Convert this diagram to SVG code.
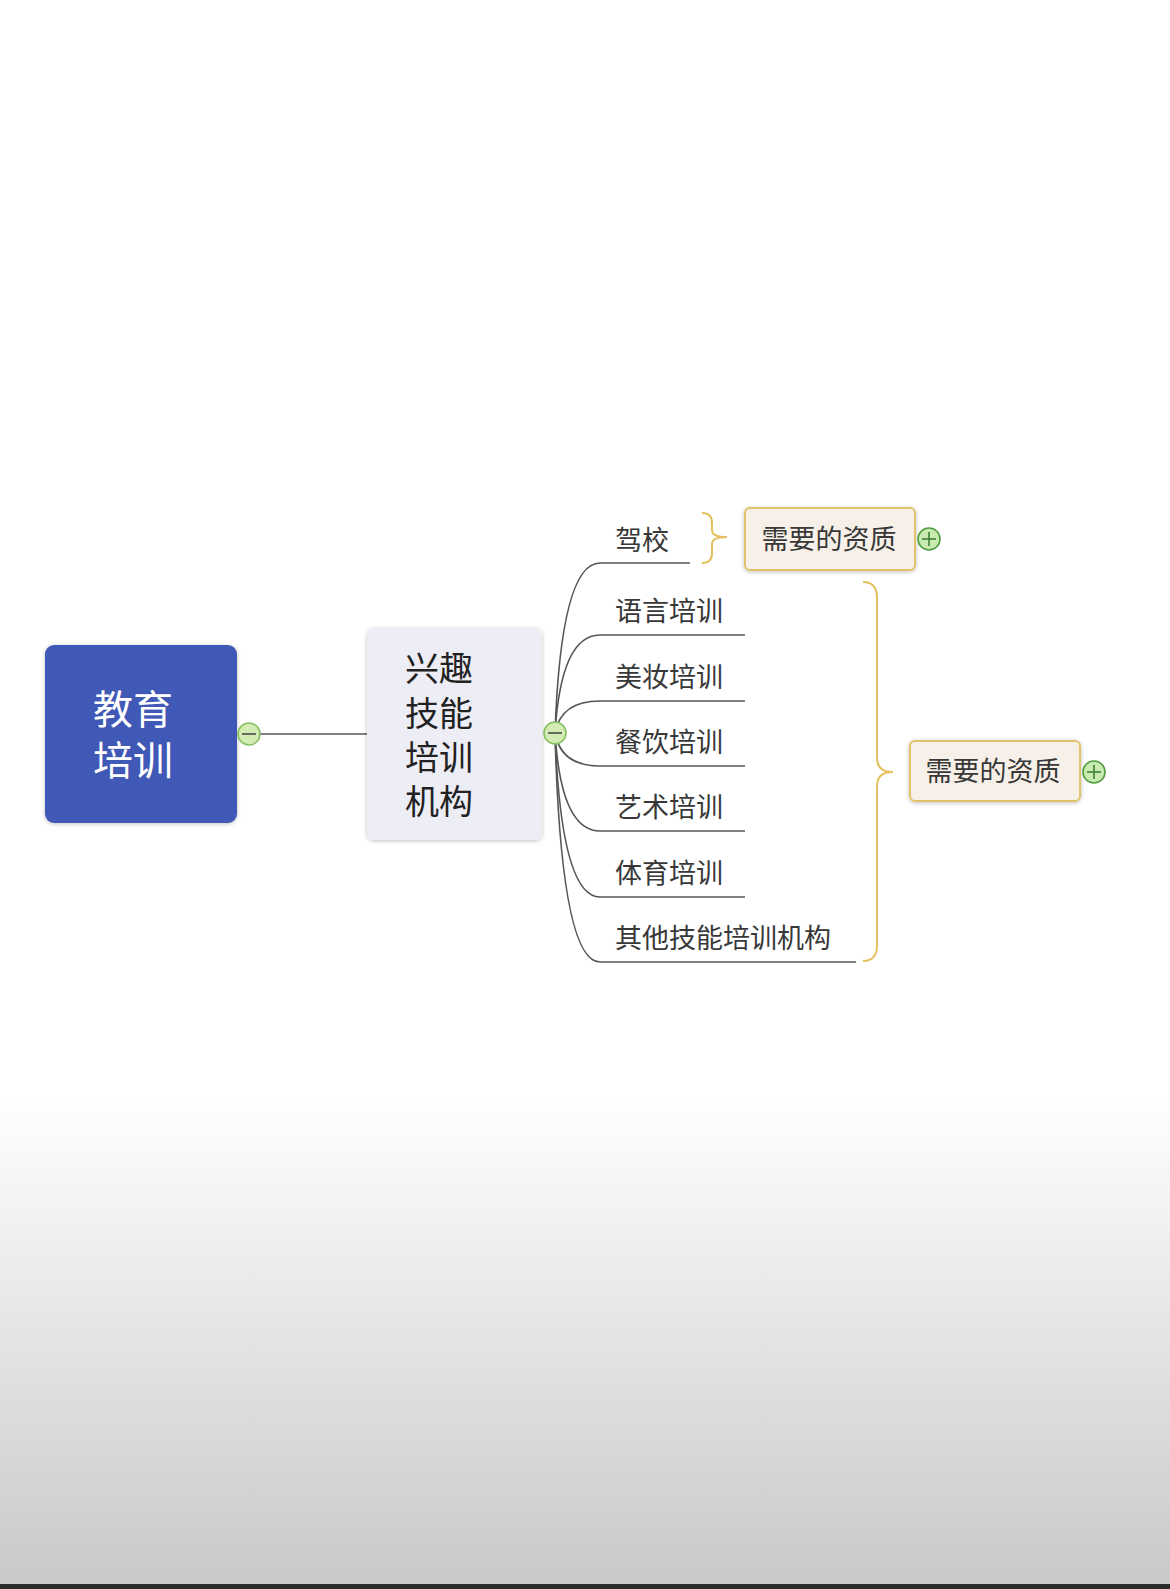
<svg xmlns="http://www.w3.org/2000/svg" width="1170" height="1589" viewBox="0 0 1170 1589">
  <defs>
    <linearGradient id="bg" x1="0" y1="0" x2="0" y2="1589" gradientUnits="userSpaceOnUse">
      <stop offset="0" stop-color="#ffffff"/>
      <stop offset="0.69" stop-color="#ffffff"/>
      <stop offset="0.99" stop-color="#cacaca"/>
    </linearGradient>
    <filter id="soft" x="-10%" y="-10%" width="120%" height="120%">
      <feGaussianBlur in="SourceAlpha" stdDeviation="2"/>
      <feOffset dx="0" dy="1" result="b"/>
      <feComponentTransfer><feFuncA type="linear" slope="0.25"/></feComponentTransfer>
      <feMerge><feMergeNode/><feMergeNode in="SourceGraphic"/></feMerge>
    </filter>
  </defs>
  <style>
    .cjk { font-family: "Noto Sans CJK SC", "Noto Sans", sans-serif; }
    .branch { fill: none; stroke: #555555; stroke-width: 1.6; }
    .brace { fill: none; stroke: #e4c15e; stroke-width: 2; }
    .label { font-size: 27px; fill: #383838; }
    .qual { fill: #f6f0e8; stroke: #e2c36c; stroke-width: 2; }
    .qtext { font-size: 27px; fill: #383838; text-anchor: middle; }
    .minus { fill: #d3ecb4; stroke: #86bf62; stroke-width: 1.6; }
    .plus { fill: #c9eab1; stroke: #4f9d3e; stroke-width: 1.6; }
    .sign { stroke: #4a4a4a; stroke-width: 1.6; }
    .psign { stroke: #3f7f33; stroke-width: 1.6; }
  </style>

  <rect x="0" y="0" width="1170" height="1589" fill="url(#bg)"/>
  <rect x="0" y="1584" width="1170" height="5" fill="#2b2b2b"/>

  <g id="connectors">
    <line class="branch" x1="249" y1="734" x2="367" y2="734"/>
    <path class="branch" d="M555,733 Q561,563 600,563 L690,563"/>
    <path class="branch" d="M555,733 Q561,635 600,635 L745,635"/>
    <path class="branch" d="M555,733 Q561,701 600,701 L745,701"/>
    <path class="branch" d="M555,733 Q561,766 600,766 L745,766"/>
    <path class="branch" d="M555,733 Q561,831 600,831 L745,831"/>
    <path class="branch" d="M555,733 Q561,897 600,897 L745,897"/>
    <path class="branch" d="M555,733 Q561,962 600,962 L856,962"/>
    <path class="brace" d="M702,513 Q712,513 712,523 L712,530 Q712,537 727,537 Q712,537 712,544 L712,553 Q712,563 702,563"/>
    <path class="brace" d="M863,582 Q877,582 877,598 L877,758 Q877,772 893,772 Q877,772 877,786 L877,945 Q877,961 863,961"/>
  </g>

  <g id="node-root">
    <rect x="45" y="645" width="192" height="178" rx="9" fill="#4159b6" filter="url(#soft)"/>
    <text class="cjk" x="133" y="724" font-size="40" fill="#ffffff" text-anchor="middle">教育<tspan x="133" dy="51">培训</tspan></text>
  </g>
  <g id="toggle-root">
    <circle class="minus" cx="249" cy="734" r="11"/>
    <line class="sign" x1="242" y1="734" x2="256" y2="734"/>
  </g>

  <g id="node-interest">
    <rect x="367" y="628" width="175" height="212" rx="7" fill="#ededf5" filter="url(#soft)"/>
    <text class="cjk" x="405" y="681" font-size="34" fill="#222222">兴趣<tspan x="405" dy="45">技能</tspan><tspan x="405" dy="44">培训</tspan><tspan x="405" dy="44">机构</tspan></text>
  </g>
  <g id="toggle-interest">
    <circle class="minus" cx="555" cy="733" r="11"/>
    <line class="sign" x1="548" y1="733" x2="562" y2="733"/>
  </g>

  <g id="node-driving"><text class="cjk label" x="615" y="550">驾校</text></g>
  <g id="node-language"><text class="cjk label" x="615" y="621">语言培训</text></g>
  <g id="node-beauty"><text class="cjk label" x="615" y="687">美妆培训</text></g>
  <g id="node-catering"><text class="cjk label" x="615" y="752">餐饮培训</text></g>
  <g id="node-art"><text class="cjk label" x="615" y="817">艺术培训</text></g>
  <g id="node-sports"><text class="cjk label" x="615" y="883">体育培训</text></g>
  <g id="node-other"><text class="cjk label" x="615" y="948">其他技能培训机构</text></g>

  <g id="node-qual-1">
    <rect class="qual" x="745" y="508" width="170" height="62" rx="5" filter="url(#soft)"/>
    <text class="cjk qtext" x="829" y="549">需要的资质</text>
    <circle class="plus" cx="929" cy="539" r="11"/>
    <line class="psign" x1="922" y1="539" x2="936" y2="539"/>
    <line class="psign" x1="929" y1="532" x2="929" y2="546"/>
  </g>

  <g id="node-qual-2">
    <rect class="qual" x="910" y="741" width="170" height="60" rx="5" filter="url(#soft)"/>
    <text class="cjk qtext" x="993" y="781">需要的资质</text>
    <circle class="plus" cx="1094" cy="772" r="11"/>
    <line class="psign" x1="1087" y1="772" x2="1101" y2="772"/>
    <line class="psign" x1="1094" y1="765" x2="1094" y2="779"/>
  </g>
</svg>
